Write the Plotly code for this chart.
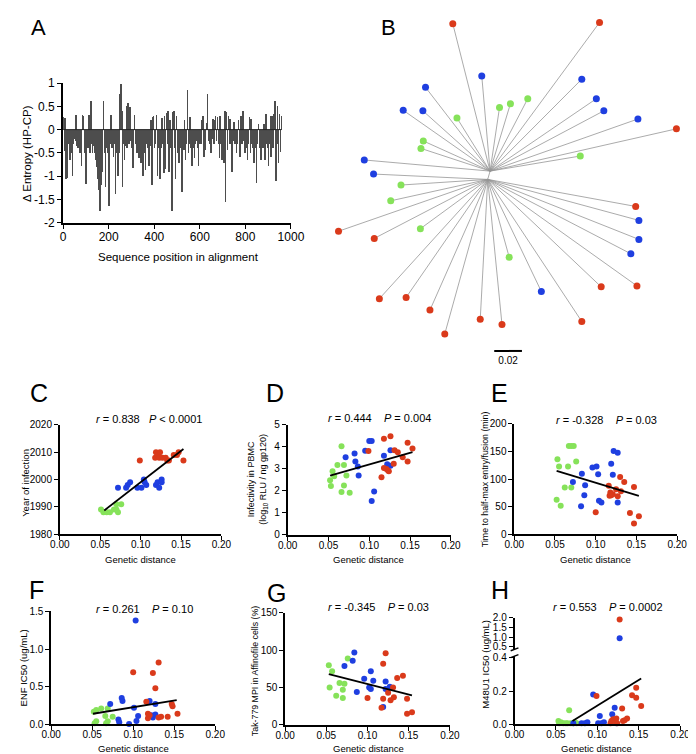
import plotly.graph_objects as go

W, H = 696, 754
FONT = "Liberation Sans, Arial, Helvetica, sans-serif"
RED, BLUE, GREEN = "#DA3A1B", "#1F3FE0", "#86E25A"

# ---------------- Panel A data ----------------
seq_pos = list(range(2, 960, 4))
entropy_delta = [
    0.28, -0.45, 0.25, -1.07, -1.03, -0.3, -0.25, -0.65, -0.3, -0.5,
    -1.0, -0.3, -0.2, -0.25, 0.32, -0.35, -0.4, -0.25, -0.5, -0.3,
    -0.79, 0.32, 0.3, -0.5, -0.3, -1.17, -0.3, -0.4, 0.32, -0.5,
    0.62, -0.3, -0.5, -0.35, -0.5, -0.65, -0.3, -0.8, -1.05, -1.3,
    -1.74, -1.2, -0.9, -0.6, 0.62, -0.5, -1.24, -0.4, -0.3, -0.5,
    -1.65, -0.3, 0.32, -0.4, -0.2, -0.58, -0.3, -1.38, -0.5, -0.35,
    -1.0, -0.5, 0.76, 0.97, 0.4, -1.24, -0.3, -0.65, -0.35, 0.51,
    -0.4, 0.58, -0.3, 0.48, -0.25, -0.4, -0.82, -0.25, 0.32, -0.3,
    -0.25, -0.5, -0.3, -0.6, -0.4, -0.72, -0.3, -1.0, -0.4, -0.5,
    -0.86, -0.3, -0.4, -0.3, -0.79, -0.35, 0.2, -1.2, 0.28, 0.3,
    -0.4, -0.3, 0.32, -1.0, -0.4, -0.3, -1.07, -0.4, 0.25, -0.3,
    -0.93, 0.3, -0.85, 0.35, -0.3, 0.4, -0.9, 0.2, -0.4, -1.74,
    0.38, 0.4, -0.4, -1.07, 0.3, -0.5, -0.3, -0.72, -0.4, -0.3,
    -1.35, -0.3, -0.44, 0.2, -0.65, -0.3, 0.86, -0.51, -0.3, 0.27,
    -0.4, -0.79, -0.3, -0.4, -0.61, -0.3, -0.25, -0.4, -0.79, -0.3,
    -0.2, -0.3, 0.2, 0.3, -0.58, -0.3, -0.44, 0.15, 0.76, -0.25,
    -0.2, -0.3, -0.51, -0.2, 0.23, -0.3, 0.2, 0.3, -0.25, 0.27,
    -0.3, -0.61, 0.3, -0.3, -0.65, -0.3, -0.72, 0.4, -1.55, 0.37,
    -0.44, 0.3, -0.3, 0.23, -0.3, -0.9, -0.25, 0.16, -0.3, -0.25,
    -0.51, -0.3, 0.2, -0.3, -0.58, 0.3, -0.3, 0.4, -0.25, -0.51,
    -0.3, -0.4, -0.65, -0.3, 0.27, -0.51, 0.23, -0.3, -0.4, -0.72,
    -0.3, -0.4, -1.14, -0.3, 0.13, -0.4, -0.3, -0.65, -0.3, -0.4,
    0.13, -0.65, 0.34, -0.3, -0.4, -0.79, -0.3, 0.3, -0.58, 0.3,
    -0.4, 0.34, 0.62, -1.1, -0.3, 0.51, -0.72, 0.34, -0.48, 0.3,
]
A_yticks = [1, 0.5, 0, -0.5, -1, -1.5, -2]
A_yticklabels = ["1", "0.5", "0", "-0.5", "-1", "-1.5", "-2"]

# ---------------- Panel B data (tree layout, branch-length units) ----------------
tree_red_x = [-0.0259, 0.0800, 0.1355, -0.1084, -0.0826, -0.0789, -0.0596, -0.0424,
              -0.0317, -0.0061, 0.0096, 0.0672, 0.0812, 0.1070, 0.1061]
tree_red_y = [0.1077, 0.1086, 0.0331, -0.0396, -0.0447, -0.0875, -0.0866, -0.0956,
              -0.1125, -0.1021, -0.1058, -0.1037, -0.0791, -0.0784, -0.0220]
tree_blue_x = [-0.0050, -0.0456, 0.0672, -0.0617, -0.0475, 0.0777, 0.0831, 0.1077,
               -0.0898, -0.0831, 0.0380, 0.1026, 0.1084, 0.1084]
tree_blue_y = [0.0707, 0.0626, 0.0684, 0.0463, 0.0459, 0.0545, 0.0459, 0.0401,
               0.0110, 0.0010, -0.0824, -0.0556, -0.0454, -0.0319]
tree_green_x = [-0.0229, 0.0078, 0.0157, 0.0282, 0.0661, -0.0472, -0.0489, -0.0633,
                -0.0707, -0.0493, 0.0148]
tree_green_y = [0.0408, 0.0482, 0.0510, 0.0545, 0.0138, 0.0245, 0.0192, -0.0068,
                -0.0180, -0.0378, -0.0580]
tree_nodes_x = [0.0010, -0.0007]   # upper and lower internal nodes
tree_nodes_y = [0.0031, -0.0028]
scale_bar_len = 0.02

# ---------------- Panels C-H data (x = genetic distance) ----------------
C_green_x = [0.051, 0.054, 0.058, 0.062, 0.067, 0.070, 0.072, 0.070, 0.076]
C_green_y = [1989, 1988, 1988, 1988, 1989, 1989, 1988, 1991, 1991]
C_blue_x = [0.072, 0.082, 0.084, 0.087, 0.096, 0.101, 0.104, 0.105, 0.107, 0.119, 0.121, 0.123, 0.126, 0.126]
C_blue_y = [1997, 1997, 1998, 1999, 1997, 1997, 2000, 1999, 1998, 1998, 1999, 1997, 2000, 1999]
C_red_x = [0.099, 0.118, 0.119, 0.121, 0.124, 0.123, 0.127, 0.131, 0.133, 0.135, 0.141, 0.145, 0.147, 0.153]
C_red_y = [2007, 2008, 2010, 2009, 2010, 2008, 2008, 2008, 2007, 2007, 2009, 2009, 2010, 2007]
C_fit_x = [0.055, 0.153]
C_fit_y = [1988.7, 2011.2]

D_green_x = [0.052, 0.053, 0.055, 0.057, 0.061, 0.066, 0.066, 0.069, 0.069, 0.072, 0.076]
D_green_y = [2.48, 2.21, 2.88, 2.66, 3.17, 4.02, 1.94, 3.17, 2.24, 2.69, 1.91]
D_blue_x = [0.071, 0.082, 0.083, 0.086, 0.087, 0.095, 0.100, 0.103, 0.103, 0.106, 0.118, 0.122, 0.126, 0.126]
D_blue_y = [3.52, 3.69, 3.32, 3.10, 2.69, 3.81, 4.26, 4.26, 1.53, 1.97, 3.59, 3.20, 3.13, 3.84]
D_red_x = [0.099, 0.118, 0.126, 0.118, 0.121, 0.123, 0.124, 0.115, 0.130, 0.131, 0.135, 0.141, 0.147, 0.147, 0.153]
D_red_y = [3.80, 4.36, 4.47, 3.03, 2.98, 2.92, 2.88, 2.61, 3.22, 3.84, 3.75, 3.52, 4.17, 3.32, 3.92]
D_fit_x = [0.052, 0.153]
D_fit_y = [2.69, 3.75]

E_green_x = [0.053, 0.055, 0.052, 0.057, 0.062, 0.066, 0.067, 0.070, 0.073, 0.070, 0.076]
E_green_y = [136, 123, 63, 52, 85, 123, 160, 160, 160, 85, 132]
E_blue_x = [0.072, 0.083, 0.082, 0.086, 0.087, 0.096, 0.101, 0.103, 0.104, 0.107, 0.119, 0.121, 0.122, 0.127, 0.127]
E_blue_y = [95, 110, 51, 71, 89, 121, 123, 109, 61, 58, 128, 108, 151, 148, 58]
E_red_x = [0.100, 0.116, 0.118, 0.119, 0.121, 0.125, 0.127, 0.130, 0.131, 0.135, 0.142, 0.147, 0.147, 0.153, 0.117]
E_red_y = [40, 88, 76, 71, 73, 82, 69, 104, 78, 95, 39, 86, 20, 33, 70]
E_fit_x = [0.052, 0.153]
E_fit_y = [115, 70]

F_green_x = [0.052, 0.053, 0.055, 0.055, 0.061, 0.066, 0.067, 0.069, 0.069, 0.075]
F_green_y = [0.165, 0.013, 0.04, 0.19, 0.21, 0.11, 0.013, 0.04, 0.21, 0.10]
F_blue_x = [0.072, 0.086, 0.087, 0.082, 0.083, 0.095, 0.101, 0.103, 0.104, 0.106, 0.120, 0.122, 0.124, 0.127, 0.127]
F_blue_y = [0.27, 0.35, 0.31, 0.065, 0.026, 0.004, 0.22, 1.38, 0.043, 0.11, 0.31, 0.12, 0.09, 0.27, 0.13]
F_red_x = [0.100, 0.116, 0.118, 0.118, 0.120, 0.124, 0.127, 0.131, 0.131, 0.134, 0.142, 0.147, 0.148, 0.154]
F_red_y = [0.69, 0.30, 0.14, 0.08, 0.12, 0.68, 0.48, 0.09, 0.82, 0.10, 0.10, 0.27, 0.24, 0.14]
F_fit_x = [0.051, 0.153]
F_fit_y = [0.14, 0.32]

G_green_x = [0.053, 0.057, 0.054, 0.062, 0.066, 0.070, 0.070, 0.072, 0.076]
G_green_y = [80, 72, 50, 39, 56, 47, 36, 55, 89]
G_blue_x = [0.072, 0.082, 0.084, 0.087, 0.096, 0.102, 0.104, 0.104, 0.107, 0.119, 0.122, 0.122, 0.127]
G_blue_y = [79, 86, 97, 44, 62, 50, 48, 72, 59, 24, 58, 48, 51]
G_red_x = [0.100, 0.117, 0.119, 0.119, 0.122, 0.125, 0.128, 0.131, 0.132, 0.136, 0.143, 0.148, 0.148, 0.154]
G_red_y = [36, 23, 35, 82, 96, 43, 33, 50, 37, 63, 66, 35, 15, 17]
G_fit_x = [0.053, 0.154]
G_fit_y = [68, 39.5]

H_green_x = [0.053, 0.054, 0.056, 0.059, 0.062, 0.064, 0.066, 0.068, 0.071, 0.073, 0.075]
H_green_y = [0.02, 0.006, 0.012, 0.006, 0.006, 0.006, 0.085, 0.006, 0.006, 0.012, 0.006]
H_blue_x = [0.071, 0.081, 0.085, 0.088, 0.095, 0.101, 0.103, 0.105, 0.108, 0.118, 0.121, 0.123, 0.127]
H_blue_y = [0.006, 0.006, 0.006, 0.012, 0.18, 0.006, 0.05, 0.006, 0.012, 0.06, 0.10, 0.006, 0.95]
H_red_x = [0.099, 0.116, 0.117, 0.119, 0.121, 0.123, 0.124, 0.127, 0.130, 0.131, 0.133, 0.136, 0.142, 0.147, 0.147, 0.153]
H_red_y = [0.17, 0.006, 0.02, 0.03, 0.02, 0.035, 0.006, 1.92, 0.095, 0.02, 0.025, 0.035, 0.175, 0.16, 0.22, 0.11]
H_fit_x = [0.070, 0.153]
H_fit_y = [0.02, 0.276]
H_break = 0.45

stats = {
    "C": "<i>r</i> = 0.838&nbsp;&nbsp;&nbsp;<i>P</i> &lt; 0.0001",
    "D": "<i>r</i> = 0.444&nbsp;&nbsp;&nbsp;&nbsp;<i>P</i> = 0.004",
    "E": "<i>r</i> = -0.328&nbsp;&nbsp;&nbsp;&nbsp;<i>P</i> = 0.03",
    "F": "<i>r</i> = 0.261&nbsp;&nbsp;&nbsp;&nbsp;<i>P</i> = 0.10",
    "G": "<i>r</i> = -0.345&nbsp;&nbsp;&nbsp;&nbsp;<i>P</i> = 0.03",
    "H": "<i>r</i> = 0.553&nbsp;&nbsp;&nbsp;&nbsp;<i>P</i> = 0.0002",
}

# ---------------- helpers ----------------
def xdom(p0, p1):
    return [p0 / W, p1 / W]

def ydom(top, bottom):
    return [1 - bottom / H, 1 - top / H]

annotations = []
def label(text, px, py, size, angle=0, **kw):
    annotations.append(dict(text=text, x=px / W, y=1 - py / H, xref="paper", yref="paper",
                            showarrow=False, xanchor="center", yanchor="middle",
                            textangle=angle, font=dict(family=FONT, size=size, color="black"), **kw))

axis_style = dict(showline=True, linecolor="black", linewidth=1.6, ticks="outside",
                  ticklen=4, tickwidth=1.3, tickcolor="black", showgrid=False, zeroline=False,
                  tickfont=dict(family=FONT, size=10, color="black"))

fig = go.Figure()

# ---------------- Panel A ----------------
fig.add_trace(go.Bar(x=seq_pos, y=entropy_delta, marker_color="#4d4d4d", marker_line_width=0,
                     width=2.6, xaxis="x", yaxis="y", showlegend=False))
fig.add_trace(go.Scatter(x=[seq_pos[0], seq_pos[-1]], y=[0, 0], mode="lines",
                         line=dict(color="#222", width=1), xaxis="x", yaxis="y", showlegend=False))
A_font = dict(family=FONT, size=12, color="black")
layout = dict(
    xaxis=dict(domain=xdom(46.7, 282.7), range=[0, 1000], dtick=200, anchor="y",
               ticklabelstandoff=-2, **{**axis_style, "linewidth": 2, "tickfont": A_font}),
    yaxis=dict(domain=ydom(69.3, 211.7), range=[-2, 1], tickvals=A_yticks, ticktext=A_yticklabels,
               anchor="x", **{**axis_style, "linewidth": 2, "tickfont": A_font}),
)
label("A", 21.5, 12.5, 22)
label("Δ Entropy (HP-CP)", 10, 141, 11.5, angle=-90)
label("Sequence position in alignment", 166, 247, 11.5)

# ---------------- Panel B ----------------
px_per_unit = 1435.0
cx, cy = 487.5, 163.5
def tree_segments(xs, ys):
    sx, sy = [], []
    for x, y in zip(xs, ys):
        k = 0 if y > 0.01 else 1
        sx += [tree_nodes_x[k], x, None]
        sy += [tree_nodes_y[k], y, None]
    return sx, sy
seg_x = tree_nodes_x + [None]
seg_y = tree_nodes_y + [None]
for xs, ys in [(tree_red_x, tree_red_y), (tree_blue_x, tree_blue_y), (tree_green_x, tree_green_y)]:
    a, b = tree_segments(xs, ys)
    seg_x += a
    seg_y += b
fig.add_trace(go.Scatter(x=seg_x, y=seg_y, mode="lines", line=dict(color="#969696", width=0.8),
                         xaxis="x2", yaxis="y2", showlegend=False, hoverinfo="skip"))
for xs, ys, c in [(tree_red_x, tree_red_y, RED), (tree_blue_x, tree_blue_y, BLUE),
                  (tree_green_x, tree_green_y, GREEN)]:
    fig.add_trace(go.Scatter(x=xs, y=ys, mode="markers", marker=dict(color=c, size=7),
                             xaxis="x2", yaxis="y2", showlegend=False, cliponaxis=False))
sb_x0, sb_y = 0.004, -0.1246
fig.add_trace(go.Scatter(x=[sb_x0, sb_x0 + scale_bar_len], y=[sb_y, sb_y], mode="lines",
                         line=dict(color="black", width=2), xaxis="x2", yaxis="y2", showlegend=False))
fig.add_trace(go.Scatter(x=[sb_x0 + scale_bar_len / 2], y=[sb_y - 0.0072], mode="text",
                         text=["0.02"], textfont=dict(family=FONT, size=10, color="black"),
                         xaxis="x2", yaxis="y2", showlegend=False))
layout["xaxis2"] = dict(domain=xdom(330, 696), range=[(330 - cx) / px_per_unit, (696 - cx) / px_per_unit],
                        visible=False, anchor="y2")
layout["yaxis2"] = dict(domain=ydom(0, 380), range=[(cy - 380) / px_per_unit, cy / px_per_unit],
                        visible=False, anchor="x2")
label("B", 383.5, 13, 22)

# ---------------- Panels C-H ----------------
def scatter_panel(n, groups, fit, xpx, ypx, yrange, ydtick=None, yfmt=None):
    xa, ya = f"x{n}", f"y{n}"
    for xs, ys, c in groups:
        fig.add_trace(go.Scatter(x=xs, y=ys, mode="markers", marker=dict(color=c, size=6),
                                 xaxis=xa, yaxis=ya, showlegend=False, cliponaxis=False))
    fig.add_trace(go.Scatter(x=fit[0], y=fit[1], mode="lines", line=dict(color="black", width=1.8),
                             xaxis=xa, yaxis=ya, showlegend=False))
    layout[f"xaxis{n}"] = dict(domain=xdom(*xpx), range=[0, 0.2], dtick=0.05, tickformat=".2f",
                               anchor=ya, ticklabelstandoff=-4, **axis_style)
    yd = dict(domain=ydom(*ypx), range=yrange, anchor=xa, **axis_style)
    if ydtick is not None:
        yd["dtick"] = ydtick
    if yfmt is not None:
        yd["tickformat"] = yfmt
    layout[f"yaxis{n}"] = yd

scatter_panel(3, [(C_green_x, C_green_y, GREEN), (C_blue_x, C_blue_y, BLUE), (C_red_x, C_red_y, RED)],
              (C_fit_x, C_fit_y), (43.3, 210.7), (417.7, 529), [1980, 2020], 10)
scatter_panel(4, [(D_green_x, D_green_y, GREEN), (D_blue_x, D_blue_y, BLUE), (D_red_x, D_red_y, RED)],
              (D_fit_x, D_fit_y), (279.3, 448.3), (417.3, 529.7), [0, 5], 1)
scatter_panel(5, [(E_green_x, E_green_y, GREEN), (E_blue_x, E_blue_y, BLUE), (E_red_x, E_red_y, RED)],
              (E_fit_x, E_fit_y), (514, 682.7), (416.7, 529.3), [0, 200], 50)
scatter_panel(6, [(F_green_x, F_green_y, GREEN), (F_blue_x, F_blue_y, BLUE), (F_red_x, F_red_y, RED)],
              (F_fit_x, F_fit_y), (34.3, 204.3), (607.7, 722.7), [0, 1.5], 0.5, ".1f")
scatter_panel(7, [(G_green_x, G_green_y, GREEN), (G_blue_x, G_blue_y, BLUE), (G_red_x, G_red_y, RED)],
              (G_fit_x, G_fit_y), (276.7, 447.3), (609.3, 723.3), [0, 150], 50)

# Panel H: broken y axis
def split(xs, ys, upper):
    pts = [(x, y) for x, y in zip(xs, ys) if (y > H_break) == upper]
    return [p[0] for p in pts], [p[1] for p in pts]
for upper, n in [(False, 8), (True, 9)]:
    for xs, ys, c in [(H_green_x, H_green_y, GREEN), (H_blue_x, H_blue_y, BLUE), (H_red_x, H_red_y, RED)]:
        sx, sy = split(xs, ys, upper)
        if sx:
            fig.add_trace(go.Scatter(x=sx, y=sy, mode="markers", marker=dict(color=c, size=6),
                                     xaxis=f"x{n}", yaxis=f"y{n}", showlegend=False, cliponaxis=False))
fig.add_trace(go.Scatter(x=H_fit_x, y=H_fit_y, mode="lines", line=dict(color="black", width=1.8),
                         xaxis="x8", yaxis="y8", showlegend=False))
layout["xaxis8"] = dict(domain=xdom(514.3, 685.7), range=[0, 0.2], dtick=0.05, tickformat=".2f",
                        anchor="y8", ticklabelstandoff=-4, **axis_style)
layout["yaxis8"] = dict(domain=ydom(653.3, 722.7), range=[0, 0.41], tickvals=[0, 0.2, 0.4],
                        tickformat=".1f", anchor="x8", **axis_style)
layout["xaxis9"] = dict(domain=xdom(514.3, 685.7), range=[0, 0.2], visible=False, anchor="y9", matches="x8")
layout["yaxis9"] = dict(domain=ydom(614, 646.3), range=[0.38, 2.02], tickvals=[0.5, 1.0, 1.5, 2.0],
                        tickformat=".1f", anchor="x9", **axis_style)
shapes = []
for py in (646.3, 653.3):
    shapes.append(dict(type="line", xref="paper", yref="paper", x0=(514.3 - 4) / W, x1=(514.3 + 4) / W,
                       y0=1 - (py + 1.5) / H, y1=1 - (py - 1.5) / H, line=dict(color="black", width=1.4)))

# panel letters, stats, axis titles
label("C", 22, 385, 25); label("D", 266.5, 385, 25); label("E", 498.5, 385, 25)
label("F", 19.5, 586, 25); label("G", 268, 589, 25); label("H", 499.5, 586, 25)
label(stats["C"], 135.5, 411.7, 11); label(stats["D"], 374, 410.7, 11); label(stats["E"], 609.5, 412.7, 11)
label(stats["F"], 130.5, 605, 11); label(stats["G"], 373.5, 603.3, 11); label(stats["H"], 611, 603.3, 11)
for cxp, cyp in [(127, 555), (363.5, 555), (598, 555), (119.5, 747), (362.5, 747), (599.5, 747)]:
    label("Genetic distance", cxp, cyp, 9.5)
label("Year of infection", 8.3, 476.7, 9.5, angle=-90)
label("Infectivity in PBMC<br>(log<sub>10</sub> RLU / ng gp120)", 248.5, 472.5, 9, angle=-90)
label("Time to half-max entry/fusion (min)", 483.3, 473.3, 8.8, angle=-90)
label("ENF IC50 (ug/mL)", 6, 665, 9.5, angle=-90)
label("Tak-779 MPI in Affinofile cells (%)", 245, 669, 8.8, angle=-90)
label("M48U1 IC50 (ug/mL)", 484, 661.7, 9.5, angle=-90)

fig.update_layout(**layout)
fig.update_layout(width=W, height=H, margin=dict(l=0, r=0, t=0, b=0), paper_bgcolor="white",
                  plot_bgcolor="white", bargap=0, annotations=annotations, shapes=shapes,
                  font=dict(family=FONT, color="black"))
fig.write_html("out.html")
